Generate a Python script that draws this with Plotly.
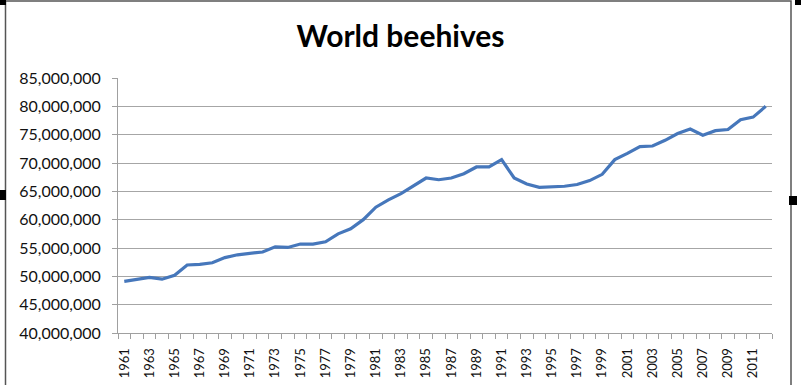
import plotly.graph_objects as go

years = list(range(1961, 2013))
hives = [
    49.1, 49.5, 49.8, 49.5, 50.2, 52.0, 52.1, 52.4, 53.3, 53.8,
    54.1, 54.3, 55.2, 55.1, 55.7, 55.7, 56.1, 57.5, 58.4, 60.0,
    62.2, 63.5, 64.6, 66.0, 67.35, 67.05, 67.35, 68.1, 69.3, 69.3,
    70.6, 67.35, 66.3, 65.7, 65.8, 65.9, 66.2, 66.9, 68.0, 70.6,
    71.7, 72.9, 73.0, 74.0, 75.2, 76.0, 74.9, 75.7, 75.9, 77.65,
    78.1, 80.0,
]
hives = [round(v * 1_000_000) for v in hives]
label_years = list(range(1961, 2013, 2))
y_ticks = list(range(40_000_000, 85_000_001, 5_000_000))

fig = go.Figure(go.Scatter(
    x=years, y=hives, mode="lines",
    line=dict(color="#4677BB", width=3.2),
    hoverinfo="x+y",
))

W, H = 801, 385
L, R, T, B = 118, 29, 78, 52
pw, ph = W - L - R, H - T - B

def px_x(x):
    return (x - L) / pw

def px_y(y):
    return (H - B - y) / ph

shapes = [
    dict(type="rect", xref="paper", yref="paper",
         x0=px_x(5.5), x1=px_x(791), y0=px_y(400), y1=px_y(1),
         line=dict(color="#555555", width=1.5), layer="below"),
]
for (x0, x1, y0, y1) in [(0, 6, 0, 5), (0, 6, 190, 200), (789, 797, 196, 205), (795, 801, 0, 5)]:
    shapes.append(dict(type="rect", xref="paper", yref="paper",
                       x0=px_x(x0), x1=px_x(x1), y0=px_y(y1), y1=px_y(y0),
                       fillcolor="black", line=dict(width=0)))

fig.update_layout(
    width=W, height=H,
    margin=dict(l=L, r=R, t=T, b=B),
    paper_bgcolor="white", plot_bgcolor="white",
    showlegend=False,
    font=dict(family="Lato", color="#111111"),
    title=dict(text="<b>World beehives</b>", x=0.5, xref="container",
               y=1 - 36 / H, yref="container", yanchor="middle", xanchor="center",
               font=dict(family="Lato", size=30, color="black")),
    xaxis=dict(
        range=[1960.5, 2012.5],
        tickmode="array", tickvals=label_years, ticktext=[str(y) for y in label_years],
        tickangle=-90, tickfont=dict(size=13, color="#111111"),
        ticks="", showgrid=False, zeroline=False, ticklabelstandoff=9,
        showline=True, linecolor="#A0A0A0", linewidth=1,
        automargin=False,
        minor=dict(ticks="outside", ticklen=5, tickcolor="#A0A0A0",
                   tickmode="linear", tick0=1960.5, dtick=1, showgrid=False),
    ),
    yaxis=dict(
        range=[40_000_000, 85_000_000],
        tickmode="array", tickvals=y_ticks,
        tickformat=",d", tickfont=dict(size=16, color="#111111"),
        ticks="outside", ticklen=5, tickcolor="#A0A0A0", ticklabelstandoff=8,
        showgrid=True, gridcolor="#A6A6A6", gridwidth=1, automargin=False,
        zeroline=False, showline=True, linecolor="#A0A0A0", linewidth=1,
    ),
    shapes=shapes,
)

fig.write_html("out.html", config={"displayModeBar": False},
               post_script="document.body.style.margin='0';")
